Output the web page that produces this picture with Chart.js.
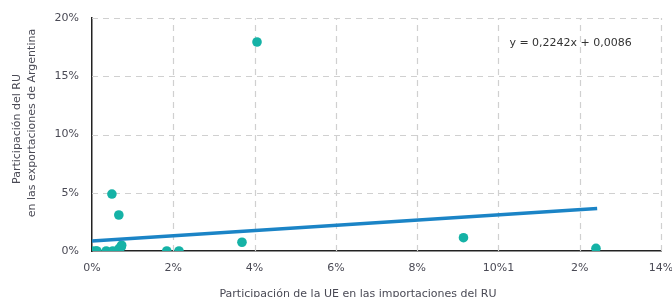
<!DOCTYPE html>
<html>
<head>
<meta charset="utf-8">
<script src="https://cdn.jsdelivr.net/npm/chart.js@4"></script>
<style>
  html, body { margin: 0; padding: 0; background: #ffffff; }
  #wrap { width: 672px; height: 297px; position: relative; }
</style>
</head>
<body>
<div id="wrap"><canvas id="c" width="672" height="297"></canvas></div>
<script>
// Values in percent
const pointX = [0, 0.09, 0.12, 0.35, 0.51, 0.67, 0.73, 0.72, 1.84, 2.14, 0.49, 0.66, 4.06, 3.69, 9.14, 12.4];
const pointY = [0, 0, 0, 0, 0, 0.23, 0.5, 0.35, 0, 0, 4.89, 3.09, 17.94, 0.75, 1.14, 0.23];
const trendX = [0, 12.43];
const trendY = [0.86, 3.65];
const xTickValues = [0, 2, 4, 6, 8, 10, 12, 14];
const xTickLabels = ['0%', '2%', '4%', '6%', '8%', '10%1', '2%', '14%'];
const yTickValues = [0, 5, 10, 15, 20];
const yTickLabels = ['0%', '5%', '10%', '15%', '20%'];
const equationText = 'y = 0,2242x + 0,0086';
const xTitle = 'Participación de la UE en las importaciones del RU';
const yTitle = ['Participación del RU', 'en las exportaciones de Argentina'];

const FONT = 'DejaVu Sans';
const TXT = '#4a4a55';

const scatterData = pointX.map((x, i) => ({ x: x, y: pointY[i] }));
const trendData = trendX.map((x, i) => ({ x: x, y: trendY[i] }));

const decorations = {
  id: 'decorations',
  beforeDatasetsDraw(chart) {
    const ctx = chart.ctx;
    const xs = chart.scales.x, ys = chart.scales.y;
    const a = chart.chartArea;
    ctx.save();
    ctx.strokeStyle = '#d0d0d0';
    ctx.lineWidth = 1.2;
    ctx.setLineDash([6, 5]);
    xTickValues.forEach(v => {
      if (v === 0) return;
      const px = Math.round(xs.getPixelForValue(v)) + 0.5;
      ctx.beginPath(); ctx.moveTo(px, a.bottom); ctx.lineTo(px, a.top); ctx.stroke();
    });
    yTickValues.forEach(v => {
      if (v === 0) return;
      const py = Math.round(ys.getPixelForValue(v)) + 0.5;
      ctx.beginPath(); ctx.moveTo(a.left, py); ctx.lineTo(a.right, py); ctx.stroke();
    });
    ctx.restore();
  },
  afterDatasetsDraw(chart) {
    const ctx = chart.ctx;
    const xs = chart.scales.x, ys = chart.scales.y;
    const a = chart.chartArea;
    ctx.save();
    ctx.font = '11px "' + FONT + '"';
    ctx.fillStyle = '#333333';
    ctx.textAlign = 'left';
    ctx.textBaseline = 'middle';
    ctx.fillText(equationText, xs.getPixelForValue(10.27), ys.getPixelForValue(17.85));

    // axis titles
    ctx.fillStyle = TXT;
    ctx.textAlign = 'center';
    ctx.fillText(xTitle, a.left + 266, a.bottom + 43);

    ctx.translate(0, 0);
    [[17.5, a.top + 111], [32, a.top + 105]].forEach((pos, i) => {
      ctx.save();
      ctx.translate(pos[0], pos[1]);
      ctx.rotate(-Math.PI / 2);
      ctx.fillText(yTitle[i], 0, 0);
      ctx.restore();
    });
    ctx.restore();
  }
};

new Chart(document.getElementById('c'), {
  type: 'scatter',
  data: {
    datasets: [
      {
        type: 'line',
        data: trendData,
        borderColor: '#1b84c6',
        borderWidth: 3.5,
        pointRadius: 0,
        fill: false,
        order: 1
      },
      {
        data: scatterData,
        backgroundColor: '#15b2a6',
        borderColor: '#15b2a6',
        pointRadius: 4.8,
        pointHoverRadius: 4.8,
        borderWidth: 0,
        order: 2
      }
    ]
  },
  plugins: [decorations],
  options: {
    responsive: false,
    animation: false,
    devicePixelRatio: 1,
    layout: { padding: { left: 0, right: 11, top: 18, bottom: 0 } },
    plugins: { legend: { display: false }, tooltip: { enabled: false } },
    scales: {
      x: {
        type: 'linear',
        min: 0, max: 14,
        afterBuildTicks(s) { s.ticks = xTickValues.map(v => ({ value: v })); },
        afterFit(s) { s.height = 46; s.paddingLeft = 0; s.paddingRight = 0; },
        ticks: {
          padding: 11,
          color: TXT,
          font: { family: FONT, size: 11 },
          maxRotation: 0,
          callback(v) { return xTickLabels[xTickValues.indexOf(v)]; }
        },
        grid: { display: false, drawTicks: false },
        border: { display: true, color: '#222222', width: 1.5 },
        title: { display: false }
      },
      y: {
        type: 'linear',
        min: 0, max: 20,
        afterBuildTicks(s) { s.ticks = yTickValues.map(v => ({ value: v })); },
        afterFit(s) { s.width = 92; s.paddingTop = 0; s.paddingBottom = 0; },
        ticks: {
          padding: 13,
          color: TXT,
          font: { family: FONT, size: 11 },
          callback(v) { return yTickLabels[yTickValues.indexOf(v)]; }
        },
        grid: { display: false, drawTicks: false },
        border: { display: true, color: '#222222', width: 1.5 },
        title: { display: false }
      }
    }
  }
});
</script>
</body>
</html>
